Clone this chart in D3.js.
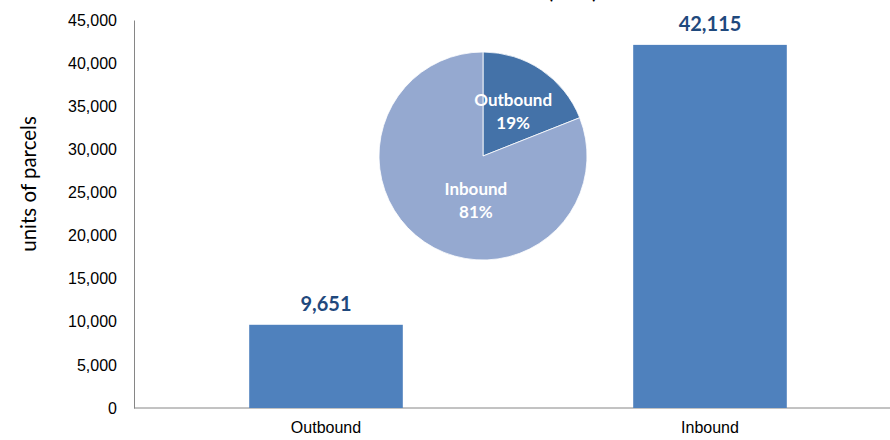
<!DOCTYPE html>
<html>
<head>
<meta charset="utf-8">
<script src="https://cdn.jsdelivr.net/npm/d3@7"></script>
<style>
  body { margin: 0; background: #fff; }
  svg { display: block; font-family: Lato, "Open Sans", sans-serif; }
</style>
</head>
<body>
<script>
'use strict';

// bar data
const categories = ["Outbound", "Inbound"];
const parcels = [9651, 42115];

// pie data
const pieLabels = ["Outbound", "Inbound"];
const pieShares = [19, 81];

// y axis ticks
const yTicks = [0, 5000, 10000, 15000, 20000, 25000, 30000, 35000, 40000, 45000];

const width = 890, height = 440;
const margin = { left: 134, right: -12, top: 20, bottom: 32 };

const svg = d3.select('body')
  .append('svg')
  .attr('width', width)
  .attr('height', height);

// title, cut off at the very top as in the original
svg.append('text')
  .attr('x', 597)
  .attr('y', -1)
  .attr('text-anchor', 'end')
  .style('font-size', '17px')
  .style('font-weight', 'bold')
  .attr('fill', '#000')
  .text('Parcel volume (2015)');

const x = d3.scaleBand()
  .domain(categories)
  .range([margin.left, width - margin.right])
  .paddingInner(0.6)
  .paddingOuter(0.3);

const y = d3.scaleLinear()
  .domain([0, 45000])
  .range([height - margin.bottom, margin.top]);

// y axis
const yAxis = svg.append('g')
  .attr('transform', `translate(${margin.left},0)`)
  .call(d3.axisLeft(y).tickValues(yTicks).tickSize(0).tickPadding(17)
    .tickFormat(d3.format(',')));
yAxis.select('.domain').attr('stroke', '#868686');
yAxis.selectAll('text').style('font-size', '16px').attr('fill', '#000');

// x axis
const xAxis = svg.append('g')
  .attr('transform', `translate(0,${height - margin.bottom})`)
  .call(d3.axisBottom(x).tickSize(0).tickPadding(14));
xAxis.select('.domain').attr('stroke', '#868686').attr('d', `M${margin.left},0H${width}`);
xAxis.selectAll('text').style('font-size', '16px').attr('fill', '#000');

// axis title
svg.append('text')
  .attr('transform', 'translate(36, 184)rotate(-90)')
  .attr('text-anchor', 'middle')
  .style('font-size', '20.5px')
  .attr('fill', '#000')
  .text('units of parcels');

// bars
svg.selectAll('.bar')
  .data(categories)
  .enter()
  .append('rect')
    .attr('class', 'bar')
    .attr('x', (d) => x(d))
    .attr('y', (d, i) => y(parcels[i]))
    .attr('width', x.bandwidth())
    .attr('height', (d, i) => y(0) - y(parcels[i]))
    .attr('fill', '#4F81BD');

// bar value labels
svg.selectAll('.val')
  .data(categories)
  .enter()
  .append('text')
    .attr('x', (d) => x(d) + x.bandwidth() / 2)
    .attr('y', (d, i) => y(parcels[i]) - 14)
    .attr('text-anchor', 'middle')
    .style('font-size', '20px')
    .style('font-weight', 'bold')
    .attr('fill', '#1F497D')
    .text((d, i) => d3.format(',')(parcels[i]));

// pie inset
const cx = 483, cy = 156, r = 104;
const pieColors = ['#4472A8', '#95A9D0'];
const labelNudge = [[-2, 2], [25, -4]];

const pie = d3.pie().sort(null).value((d) => d)(pieShares);
const arc = d3.arc().innerRadius(0).outerRadius(r);
const labelArc = d3.arc().innerRadius(r * 0.55).outerRadius(r * 0.55);

const pg = svg.append('g').attr('transform', `translate(${cx},${cy})`);
pg.selectAll('path')
  .data(pie)
  .enter()
  .append('path')
    .attr('d', arc)
    .attr('fill', (d, i) => pieColors[i])
    .attr('stroke', '#fff')
    .attr('stroke-width', 0.8);

const lab = pg.selectAll('.plab')
  .data(pie)
  .enter()
  .append('text')
    .attr('transform', (d, i) => {
      const c = labelArc.centroid(d);
      return `translate(${c[0] + labelNudge[i][0]},${c[1] + labelNudge[i][1]})`;
    })
    .attr('text-anchor', 'middle')
    .style('font-size', '17px')
    .style('font-weight', 'bold')
    .attr('fill', '#fff');
lab.append('tspan').attr('x', 0).attr('dy', '-0.25em').text((d, i) => pieLabels[i]);
lab.append('tspan').attr('x', 0).attr('dy', '1.35em').text((d, i) => pieShares[i] + '%');
</script>
</body>
</html>
